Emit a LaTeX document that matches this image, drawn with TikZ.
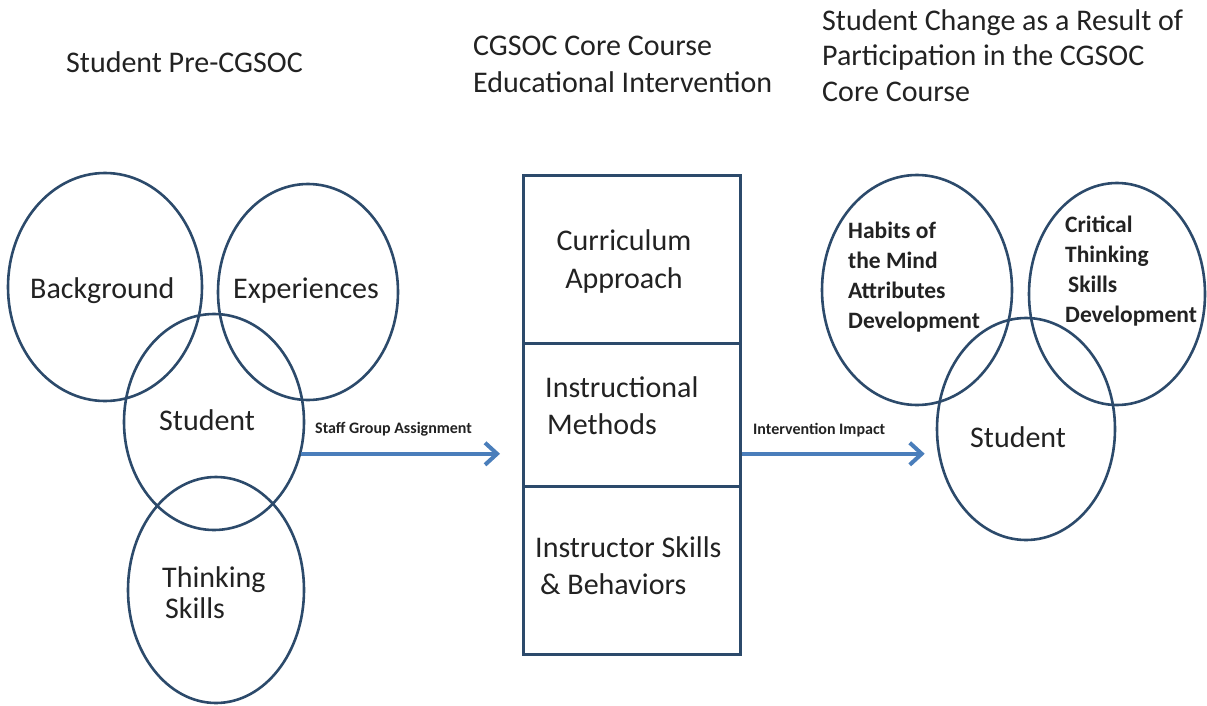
\documentclass[tikz,border=0pt]{standalone}
\usepackage{fontspec}
\setmainfont{Carlito}
\usetikzlibrary{shapes.geometric,arrows.meta}
\definecolor{edge}{HTML}{2C4A6B}
\definecolor{arrowblue}{HTML}{4A7EBB}
\definecolor{txt}{HTML}{222222}
\begin{document}
\begin{tikzpicture}[x=1pt,y=-1pt,
  circ/.style={ellipse,draw=edge,line width=2.6pt,inner sep=0pt},
  cell/.style={rectangle,draw=edge,line width=2.6pt,minimum width=217pt,inner sep=0pt},
  big/.style={font=\fontsize{30}{37}\selectfont,inner sep=0pt,text=txt,align=left},
  mid/.style={font=\fontsize{30}{31}\selectfont,inner sep=0pt,text=txt,align=left},
  small/.style={font=\fontsize{23.5}{30}\selectfont\bfseries,inner sep=0pt,text=txt,align=left},
  lab/.style={font=\fontsize{16}{19}\selectfont\bfseries,inner sep=0pt,text=txt},
  arr/.style={draw=arrowblue,line width=4pt,-{Straight Barb[length=12pt,width=22pt]}}
]
\useasboundingbox (0,0) rectangle (1207,706);
\fill[white] (0,0) rectangle (1207,706);

% titles
\node[big,anchor=base west] (t1) at (66,73) {Student Pre-CGSOC};
\node[big,anchor=north west] (t2) at (473,29.1) {\strut CGSOC Core Course\\Educational Intervention};
\node[font=\fontsize{30}{35.5}\selectfont,inner sep=0pt,text=txt,align=left,anchor=north west] (t3) at (822,5.2)
  {\strut Student Change as a Result of\\Participation in the CGSOC\\Core Course};

% left ellipses
\node[circ,minimum width=194pt,minimum height=228pt] (bg) at (105,287) {};
\node[circ,minimum width=180pt,minimum height=216pt] (exp) at (308,292) {};
\node[circ,minimum width=180pt,minimum height=216pt] (stuL) at (214,422) {};
\node[circ,minimum width=176pt,minimum height=226pt] (think) at (216,590) {};
\node[big,anchor=base west] (bgt) at (30,298) {Background};
\node[big,anchor=base west] (expt) at (233,298) {Experiences};
\node[big,anchor=base west] (stuLt) at (159,430) {Student};
\node[mid,anchor=north west] (thinkt) at (162,565.3) {\strut Thinking\\\hspace{3pt}Skills};

% central box
\node[cell,minimum height=168pt,anchor=north west] (cellA) at (522,174) {};
\node[cell,minimum height=143pt,anchor=north west] (cellB) at (522,342) {};
\node[cell,minimum height=168pt,anchor=north west] (cellC) at (522,485) {};
\node[font=\fontsize{30}{38}\selectfont,inner sep=0pt,text=txt,align=center,anchor=north] (cAt) at (624,223.4) {\strut Curriculum\\Approach};
\node[big,anchor=north west] (cBt) at (545,371.1) {\strut Instructional\\\hspace{2pt}Methods};
\node[big,anchor=north west] (cCt) at (535,531.1) {\strut Instructor Skills\\\hspace{5pt}\& Behaviors};

% right ellipses
\node[circ,minimum width=190pt,minimum height=230pt] (hab) at (917,290) {};
\node[circ,minimum width=176pt,minimum height=222pt] (crit) at (1117,294) {};
\node[circ,minimum width=178pt,minimum height=222pt] (stuR) at (1026,429) {};
\node[small,anchor=north west] (habt) at (848,217) {\strut Habits of\\the Mind\\Attributes\\Development};
\node[small,anchor=north west] (critt) at (1065,211) {\strut Critical\\Thinking\\\hspace{3pt}Skills\\Development};
\node[big,anchor=base west] (stuRt) at (970,447) {Student};

% connectors
\draw[arr,shorten >=22pt] (stuL.-20) -- (cellB.west |- stuL.-20);
\draw[arr,shorten >=11pt] (cellB.east |- stuL.-20) -- (stuR.west |- stuL.-20);
\node[lab,anchor=base west] (l1) at (315,433) {Staff Group Assignment};
\node[lab,anchor=base west] (l2) at (753,434) {Intervention Impact};
\end{tikzpicture}
\end{document}
